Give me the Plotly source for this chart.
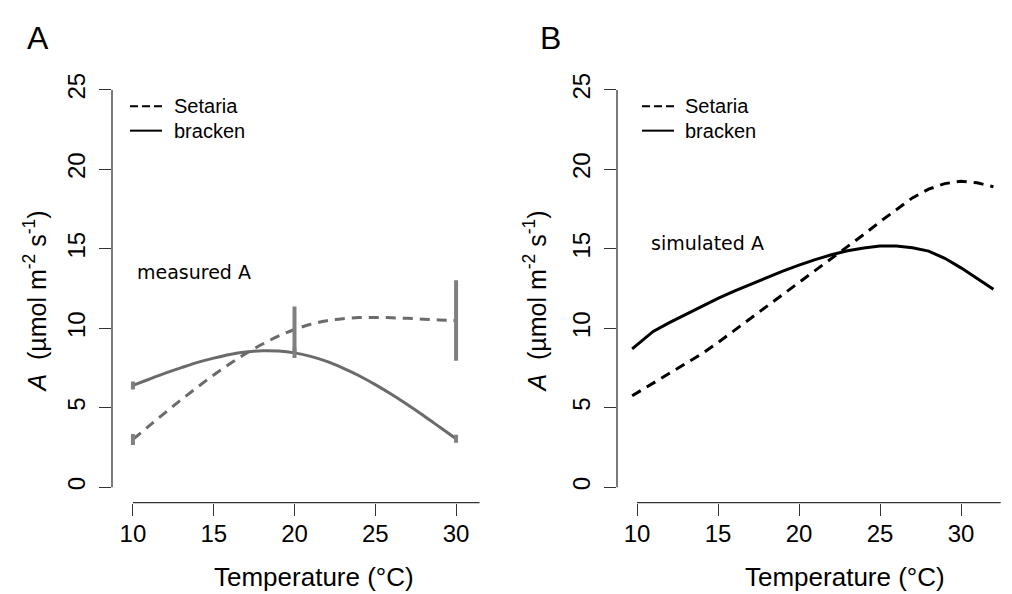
import plotly.graph_objects as go

W, H = 1012, 594

# ---------------- data ----------------
# Panel A: measured A (smooth curves through the measured points)
temp_a = [10, 11, 12, 13, 14, 15, 16, 17, 18, 19, 20, 21, 22, 23, 24, 25, 26, 27, 28, 29, 30]
setaria_a = [3.00, 3.85, 4.69, 5.51, 6.30, 7.06, 7.76, 8.41, 8.99, 9.50, 9.92,
             10.25, 10.47, 10.60, 10.67, 10.68, 10.66, 10.62, 10.57, 10.52, 10.49]
bracken_a = [6.40, 6.79, 7.17, 7.52, 7.85, 8.12, 8.35, 8.50, 8.58, 8.56, 8.45,
             8.23, 7.91, 7.49, 7.01, 6.45, 5.84, 5.18, 4.49, 3.77, 3.05]
# measured points with error bars
temp_pts = [10, 20, 30]
setaria_pts = [3.00, 9.92, 10.49]
setaria_err = [0.35, 1.45, 2.53]
bracken_pts = [6.40, 8.45, 3.05]
bracken_err = [0.25, 0.33, 0.25]

# Panel B: simulated A
temp_b = [9.7, 11, 12, 13, 14, 15, 16, 17, 18, 19, 20, 21, 22, 23, 24, 25, 26, 27, 28, 29, 30, 31, 32]
setaria_b = [5.75, 6.55, 7.16, 7.77, 8.39, 9.10, 9.85, 10.60, 11.35, 12.10, 12.85, 13.60, 14.40,
             15.15, 15.90, 16.70, 17.45, 18.20, 18.75, 19.10, 19.25, 19.15, 18.90]
bracken_b = [8.70, 9.80, 10.35, 10.87, 11.38, 11.88, 12.33, 12.77, 13.20, 13.60, 13.97, 14.32, 14.62,
             14.88, 15.05, 15.17, 15.18, 15.06, 14.85, 14.40, 13.80, 13.10, 12.45]

x_ticks = [10, 15, 20, 25, 30]
y_ticks = [0, 5, 10, 15, 20, 25]

# ---------------- styles ----------------
GREY_LINE = "#6b6b6b"
GREY_ERR = "#808080"
AXIS_COL = "#333333"
SANS = "Liberation Sans, Arial, sans-serif"
DEJAVU = "DejaVu Sans, sans-serif"


def px(xp):
    return xp / W


def py(yp):
    return 1 - yp / H


fig = go.Figure()

# Panel A curves
fig.add_trace(go.Scatter(x=temp_a, y=setaria_a, mode="lines", line=dict(color=GREY_LINE, width=3, dash="10px,7px", shape="spline"),
                         xaxis="x", yaxis="y"))
fig.add_trace(go.Scatter(x=temp_a, y=bracken_a, mode="lines", line=dict(color=GREY_LINE, width=3, shape="spline"),
                         xaxis="x", yaxis="y"))
# Panel A error bars
fig.add_trace(go.Scatter(x=temp_pts, y=setaria_pts, mode="markers", marker=dict(size=1, color="rgba(0,0,0,0)"),
                         error_y=dict(type="data", array=setaria_err, visible=True, color=GREY_ERR, thickness=4, width=0),
                         xaxis="x", yaxis="y"))
fig.add_trace(go.Scatter(x=temp_pts, y=bracken_pts, mode="markers", marker=dict(size=1, color="rgba(0,0,0,0)"),
                         error_y=dict(type="data", array=bracken_err, visible=True, color=GREY_ERR, thickness=4, width=0),
                         xaxis="x", yaxis="y"))

# Panel B curves
fig.add_trace(go.Scatter(x=temp_b, y=setaria_b, mode="lines", line=dict(color="black", width=3, dash="10px,7px"),
                         xaxis="x2", yaxis="y2"))
fig.add_trace(go.Scatter(x=temp_b, y=bracken_b, mode="lines", line=dict(color="black", width=3),
                         xaxis="x2", yaxis="y2"))

# ---------------- axes ----------------
ax_common = dict(showgrid=False, zeroline=False, showline=False, ticks="outside", ticklen=12,
                 tickwidth=1.2, tickcolor=AXIS_COL, tickfont=dict(family=SANS, size=24, color="black"))

y_dom = [py(500), py(75)]
y_rng = [-16 / 16.36, 25]

fig.update_layout(
    width=W, height=H, margin=dict(l=0, r=0, t=0, b=0),
    paper_bgcolor="white", plot_bgcolor="white", showlegend=False,
    xaxis=dict(domain=[px(112), px(482)], range=[10 - 21 / 16.2, 10 + 350 / 16.2], tickvals=x_ticks,
               anchor="y", ticklabelstandoff=-2, **ax_common),
    yaxis=dict(domain=y_dom, range=y_rng, tickvals=y_ticks, tickangle=-90, anchor="x", ticklabelstandoff=4, **ax_common),
    xaxis2=dict(domain=[px(617), px(1003)], range=[10 - 20 / 16.2, 10 + 366 / 16.2], tickvals=x_ticks,
                anchor="y2", ticklabelstandoff=-2, **ax_common),
    yaxis2=dict(domain=y_dom, range=y_rng, tickvals=y_ticks, tickangle=-90, anchor="x2", ticklabelstandoff=4, **ax_common),
)

shapes = []
# detached axis lines (R style)
shapes.append(dict(type="line", xref="x", yref="paper", x0=10, x1=31.45, y0=py(500), y1=py(500),
                   line=dict(color=AXIS_COL, width=1.3)))
shapes.append(dict(type="line", xref="x2", yref="paper", x0=10, x1=32.45, y0=py(500), y1=py(500),
                   line=dict(color=AXIS_COL, width=1.3)))
shapes.append(dict(type="line", xref="paper", yref="y", x0=px(112), x1=px(112), y0=0, y1=25,
                   line=dict(color=AXIS_COL, width=1.3)))
shapes.append(dict(type="line", xref="paper", yref="y2", x0=px(617), x1=px(617), y0=0, y1=25,
                   line=dict(color=AXIS_COL, width=1.3)))

annotations = []


def label(text, x, y, size, family=SANS, xanchor="center", angle=0):
    annotations.append(dict(text=text, x=px(x), y=py(y), xref="paper", yref="paper", xanchor=xanchor,
                            yanchor="middle", showarrow=False, textangle=angle,
                            font=dict(family=family, size=size, color="black")))


# legends (drawn manually)
for lx, tx in [(130, 172), (642, 683)]:
    shapes.append(dict(type="line", xref="paper", yref="paper", x0=px(lx), x1=px(lx + 32), y0=py(92), y1=py(92),
                       line=dict(color="black", width=2, dash="8px,4px")))
    shapes.append(dict(type="line", xref="paper", yref="paper", x0=px(lx), x1=px(lx + 32), y0=py(117), y1=py(117),
                       line=dict(color="black", width=2)))
    label("Setaria", tx, 92, 20, xanchor="left")
    label("bracken", tx, 117, 20, xanchor="left")

# panel letters
label("A", 38, 22, 32)
label("B", 550, 22, 32)

# axis titles
ytitle = "<i>A</i>\u00a0\u00a0(µmol\u00a0m<sup>-2</sup>\u00a0s<sup>-1</sup>)"
for tx in (35, 535):
    label(ytitle, tx, 293, 25, angle=-90)
for tx in (314, 845):
    label("Temperature (°C)", tx, 577, 26)

# in-panel labels
label("measured A", 135, 263, 19, family=DEJAVU, xanchor="left")
label("simulated A", 649, 233, 19, family=DEJAVU, xanchor="left")

fig.update_layout(shapes=shapes, annotations=annotations)

fig.write_html("out.html")
